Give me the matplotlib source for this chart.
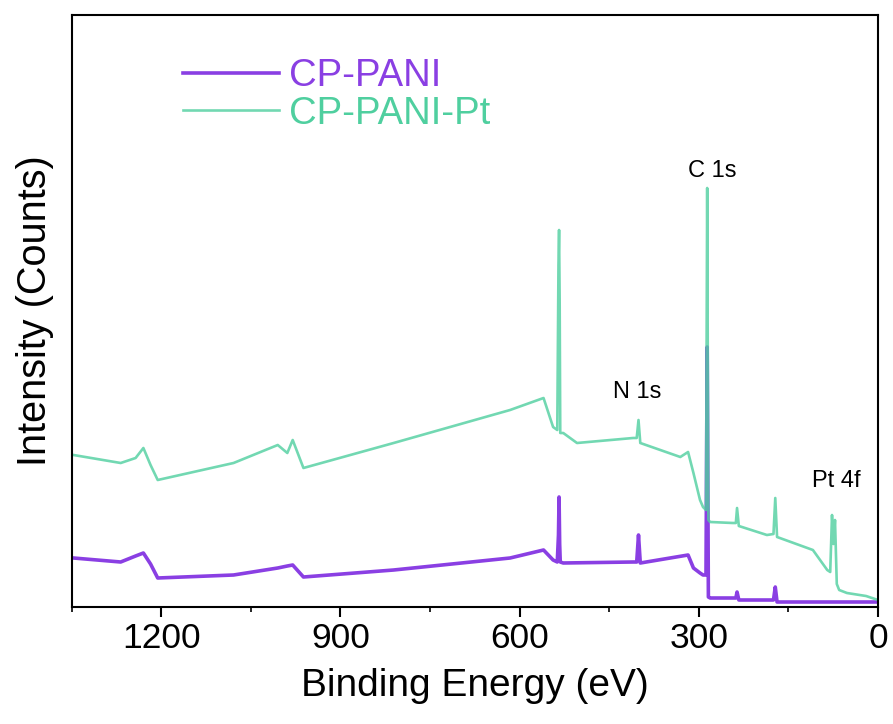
import numpy as np
import matplotlib
matplotlib.use("Agg")
import matplotlib.pyplot as plt
from matplotlib.ticker import MultipleLocator

plt.rcParams['font.family'] = ['Liberation Sans', 'DejaVu Sans']

# XPS survey (intensity in arbitrary units)
energy_pani_pt = [1350, 1347, 1268, 1243, 1230, 1218, 1206, 1079, 1005, 989, 980, 962,
                  811, 616, 560, 544, 537, 535, 534, 533, 532, 527, 504, 410, 404, 401,
                  398, 331, 318, 309, 298, 293, 288, 286, 284, 281, 243, 238, 236, 233,
                  186, 175, 172, 169, 109, 85, 80, 77, 74.5, 72, 69, 65, 52, 20, 0]
counts_pani_pt = [149, 149, 141, 146, 156, 139, 124, 141, 159, 151, 164, 136,
                  161, 194, 206, 177, 174, 339, 374, 304, 171, 171, 161, 166, 166, 184,
                  161, 147, 152, 131, 104, 97, 94, 416, 84, 82, 81, 81, 96, 78,
                  69, 70, 106, 67, 54, 34, 32, 89, 60, 84, 20, 14, 11, 8, 4]

energy_pani = [1350, 1347, 1268, 1243, 1230, 1218, 1206, 1079, 1005, 989, 980, 962,
               811, 616, 560, 544, 537, 535, 534, 533, 532, 527, 410, 404, 401, 398,
               318, 309, 298, 293, 288, 286, 284, 281, 238, 236, 233, 175, 172, 169, 0]
counts_pani = [46, 46, 42, 48, 51, 40, 26, 29, 36, 38, 39, 27,
               34, 46, 54, 44, 42, 69, 107, 60, 42, 41, 42, 42, 69, 41,
               49, 36, 31, 29, 29, 257, 7, 6, 6, 12, 4, 4, 17, 2, 2]

peak_labels = ["C 1s", "N 1s", "Pt 4f"]
peak_pos = [(278, 433), (403, 212), (69, 123)]

purple = "#8a3fe3"
teal = "#4fcf9f"

fig = plt.figure(figsize=(8.93, 7.24), dpi=100)
ax = fig.add_axes([0.0803, 0.1616, 0.9029, 0.8177])

ax.plot(energy_pani, counts_pani, color=purple, lw=2.6, label="CP-PANI")
ax.plot(energy_pani_pt, counts_pani_pt, color=teal, lw=1.9, alpha=0.8, label="CP-PANI-Pt")

for txt, (x, y) in zip(peak_labels, peak_pos):
    ax.text(x, y, txt, fontsize=17, ha="center", va="center")

ax.set_xlim(1350, 0)
ax.set_ylim(-3, 589)
ax.xaxis.set_major_locator(MultipleLocator(300))
ax.xaxis.set_minor_locator(MultipleLocator(150))
ax.set_yticks([])
ax.tick_params(axis="x", which="major", direction="out", length=7, width=1.5,
               labelsize=25.5, pad=3.5)
ax.tick_params(axis="x", which="minor", direction="out", length=3.5, width=1.2)
for s in ax.spines.values():
    s.set_linewidth(1.5)

ax.set_xlabel("Binding Energy (eV)", fontsize=28, labelpad=10)
ax.set_ylabel("Intensity (Counts)", fontsize=28.5, labelpad=13)

leg = ax.legend(loc="upper left", bbox_to_anchor=(0.205, 0.92),
                bbox_transform=fig.transFigure, frameon=False, fontsize=27.5,
                handlelength=2.5, handletextpad=0.28, labelspacing=0.05,
                borderpad=0, borderaxespad=0, labelcolor="linecolor")

fig.savefig("out.png", dpi=100)
